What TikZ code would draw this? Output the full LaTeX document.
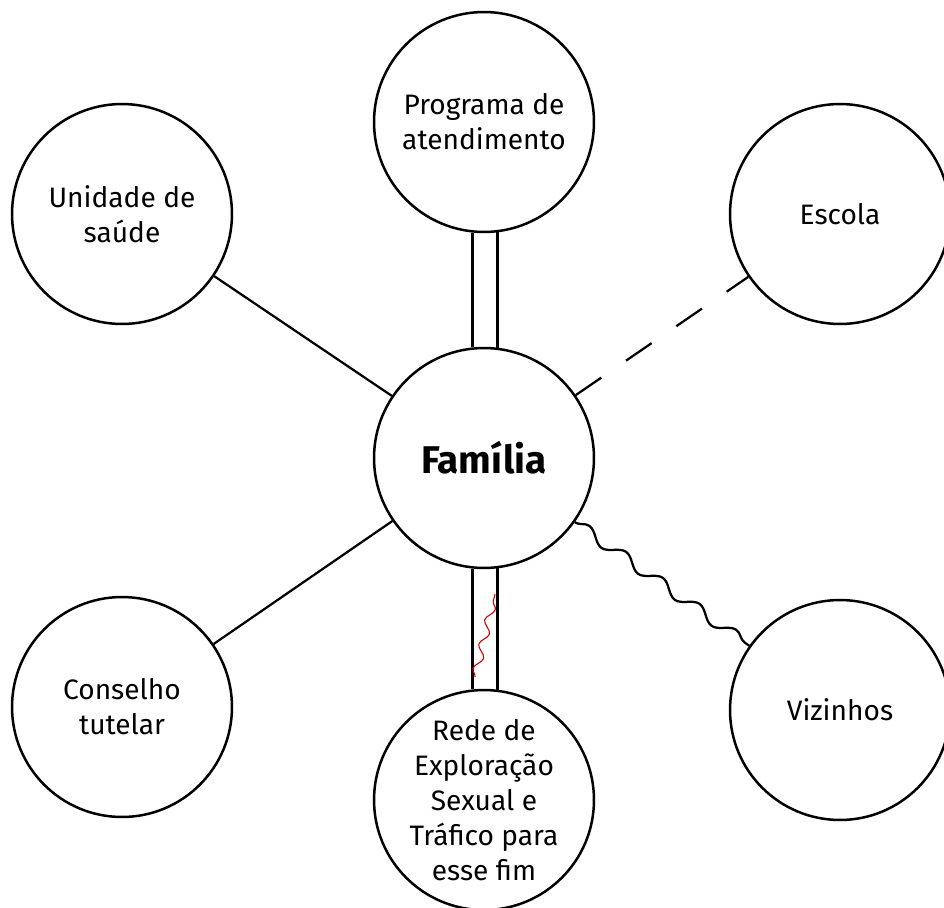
\documentclass[tikz,border=0pt]{standalone}
\usepackage{fontspec}
\setmainfont{Fira Sans}
\usetikzlibrary{decorations.pathmorphing}

\begin{document}
\begin{tikzpicture}[x=0.02cm, y=-0.02cm,
  ator/.style = {circle, draw, line width=0.05cm, minimum size=4.4cm, inner sep=0pt,
                 align=center, font=\fontsize{16}{19.9}\selectfont},
  elo/.style = {line width=0.045cm},
  fraco/.style = {elo, dash pattern=on 0.62cm off 0.6cm},
  conflito/.style = {elo, decorate, decoration={snake, amplitude=0.11cm, segment length=0.9cm}},
  abuso/.style = {red!85!black, line width=0.022cm, decorate,
                  decoration={snake, amplitude=0.08cm, segment length=0.5cm}}]
\useasboundingbox (0,0) rectangle (944,907);
\clip (0,0) rectangle (944,907);
% atores da rede
\node[ator, font=\fontsize{22}{26}\selectfont\bfseries] (fam) at (484,458) {Família};
\node[ator] (prog) at (484,122) {Programa de\\atendimento};
\node[ator] (unid) at (122,214) {Unidade de\\saúde};
\node[ator] (esc)  at (840,214) {Escola};
\node[ator] (cons) at (122,707) {Conselho\\tutelar};
\node[ator] (viz)  at (840,710) {Vizinhos};
\node[ator] (rede) at (484,800) {Rede de\\Exploração\\Sexual e\\Tráfico para\\esse fim};
% vinculos
\draw[elo] (unid) -- (fam);
\draw[elo] (cons) -- (fam);
\draw[fraco] (fam) -- (esc);
\draw[conflito] (fam) -- (viz);
\draw[elo] (prog.-96.26) -- (fam.96.26);
\draw[elo] (prog.-83.74) -- (fam.83.74);
\draw[elo] (fam.-96.26) -- (rede.96.26);
\draw[elo] (fam.-83.74) -- (rede.83.74);
\coordinate (r1) at (475,677);
\coordinate (r2) at (495,594);
\draw[abuso] (r1) -- (r2);
\end{tikzpicture}
\end{document}
